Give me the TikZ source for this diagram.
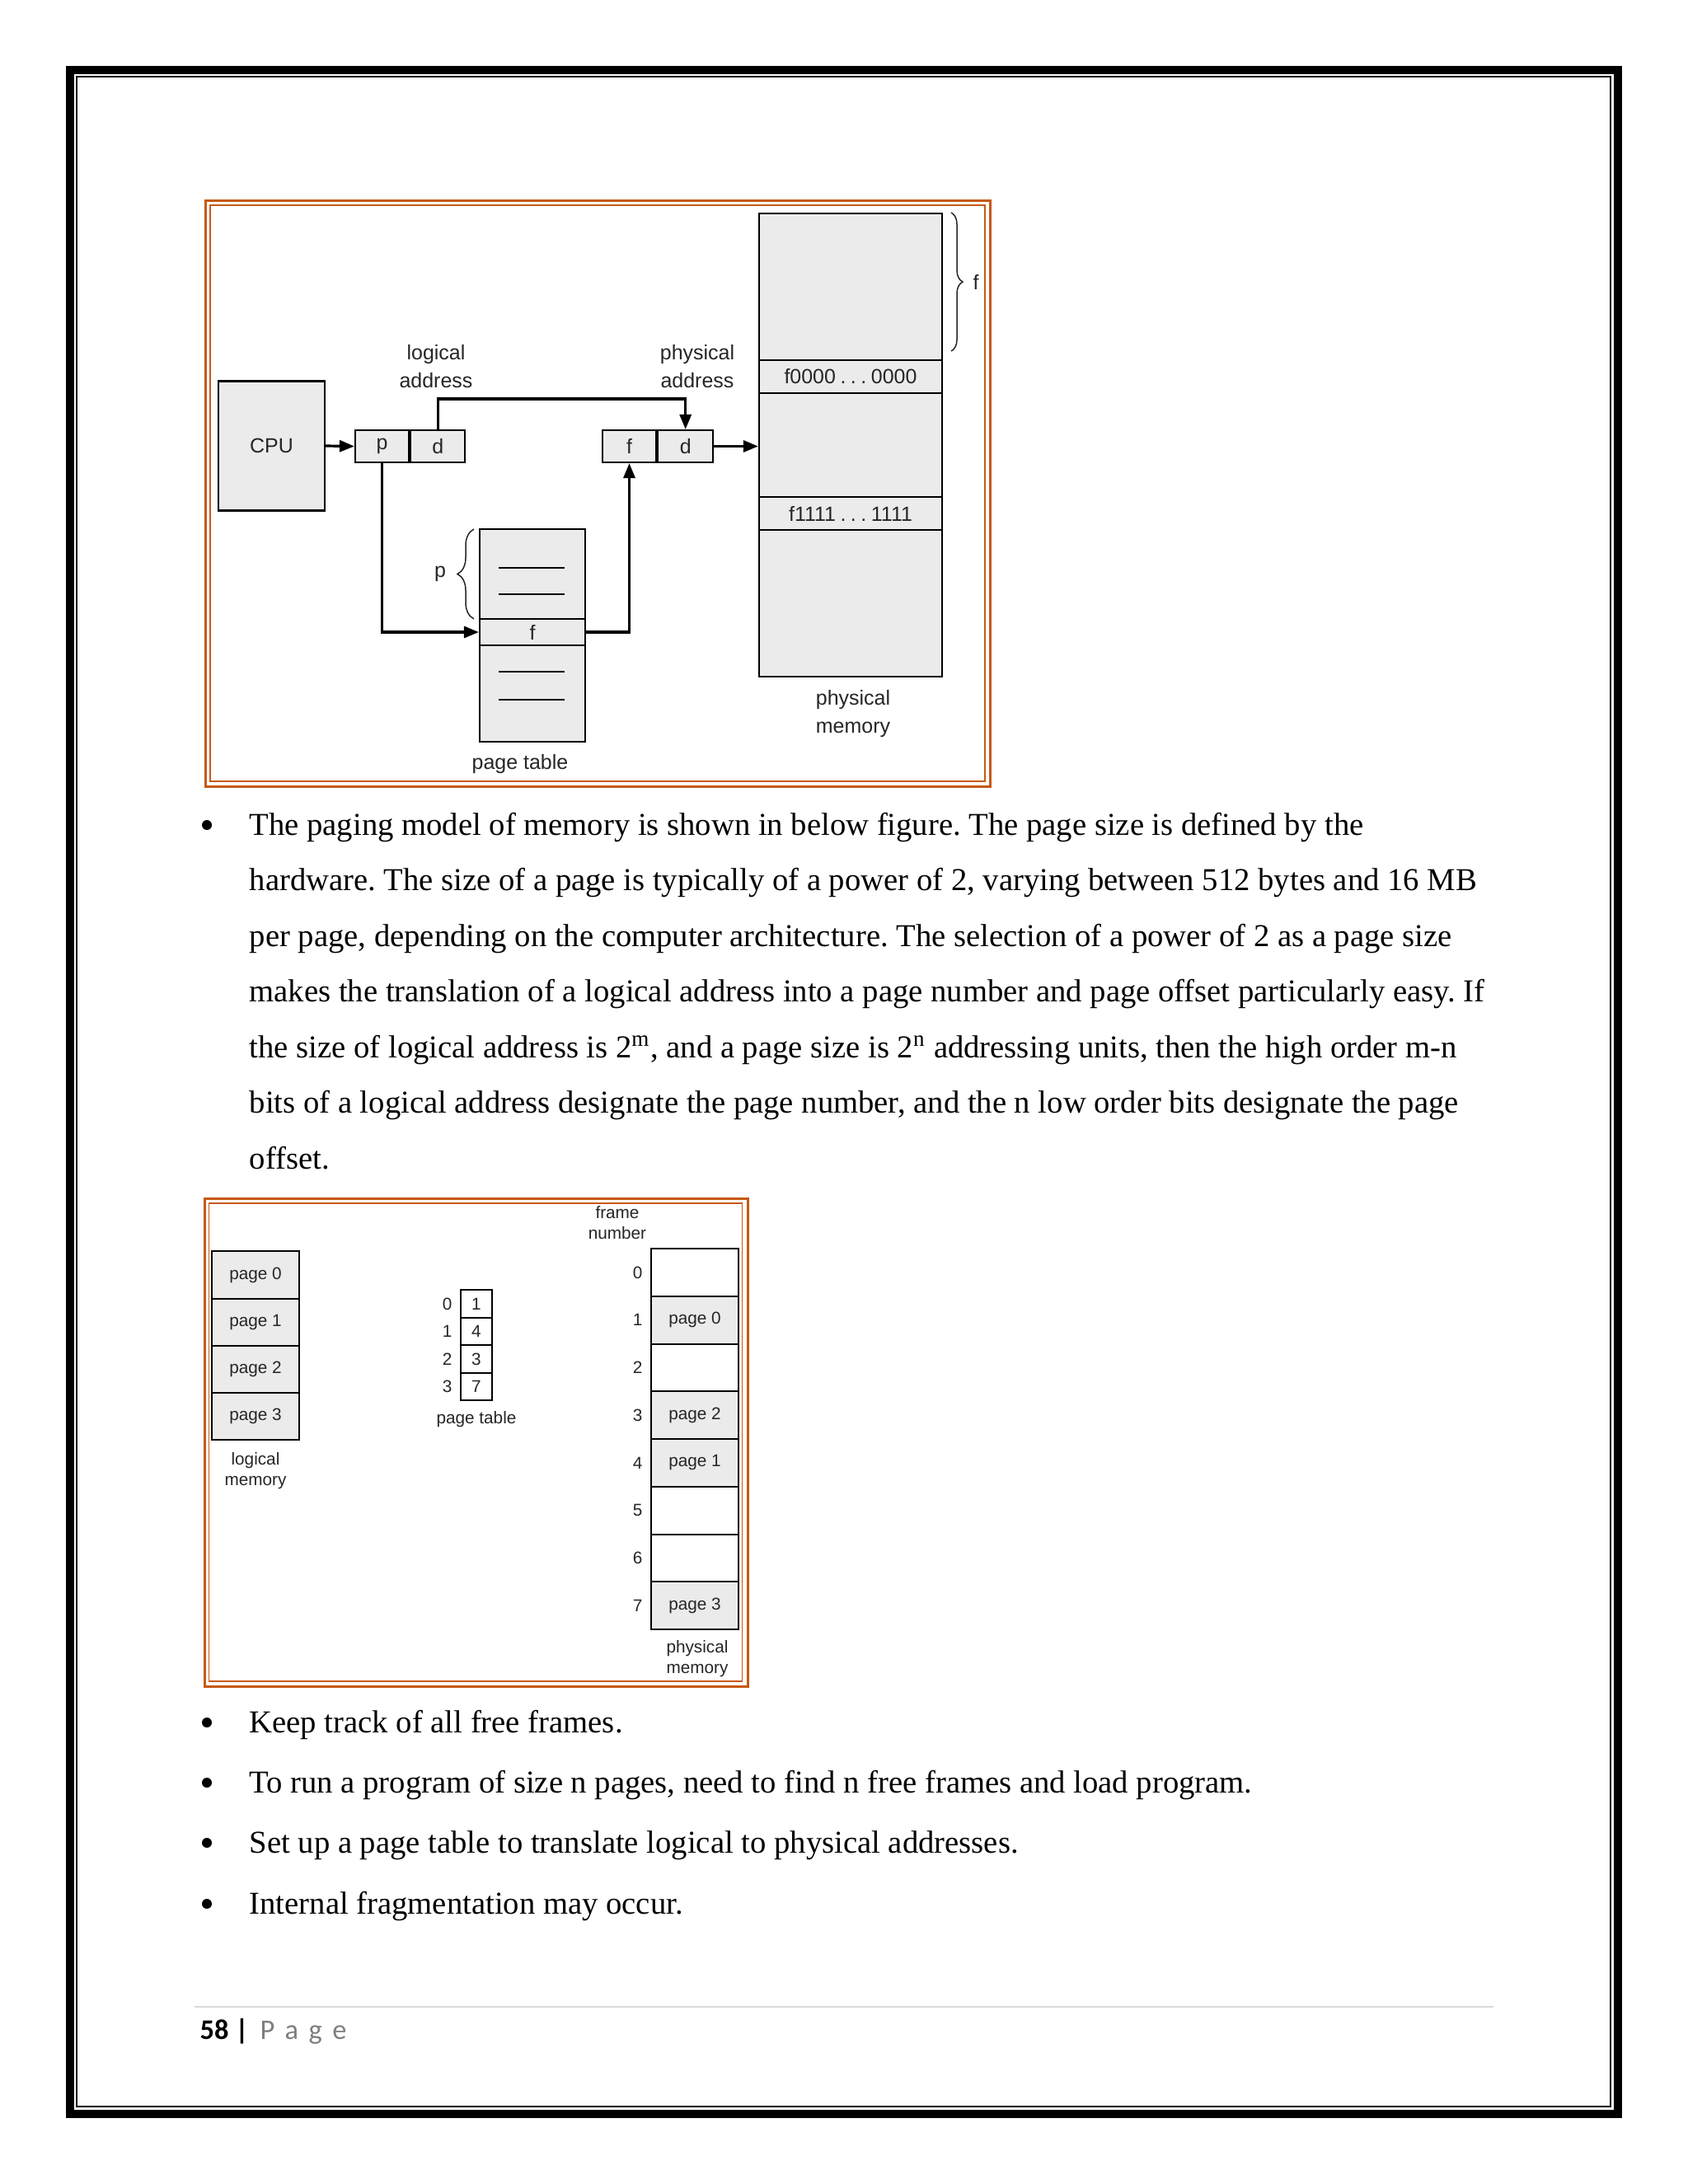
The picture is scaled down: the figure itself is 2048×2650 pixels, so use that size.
\documentclass[tikz,border=0pt]{standalone}
\usepackage{fontspec}
\setmainfont{Liberation Serif}
\newfontfamily\diagfont{Liberation Sans}
\newfontfamily\footfont{Carlito}
\usetikzlibrary{arrows.meta,positioning,decorations.pathreplacing}
\definecolor{boxgray}{HTML}{EBEBEB}
\definecolor{frameorange}{HTML}{C65911}
\definecolor{diagtext}{HTML}{262626}
\definecolor{rulegray}{HTML}{D9D9D9}
\definecolor{pagegray}{HTML}{7F7F7F}
\frenchspacing

\begin{document}
\begin{tikzpicture}[x=0.1mm,y=-0.1mm,
  gbox/.style={draw,fill=boxgray,line width=0.22mm,inner sep=0pt,text=diagtext,font={\diagfont\fontsize{7.1pt}{9.7pt}\selectfont}},
  lbl/.style={inner sep=0pt,text=diagtext,align=center,font={\diagfont\fontsize{7.1pt}{9.7pt}\selectfont}},
  pbox/.style={draw,line width=0.2mm,inner sep=0pt,text=diagtext,font={\diagfont\fontsize{5.9pt}{7.1pt}\selectfont}},
  lbltwo/.style={inner sep=0pt,text=diagtext,align=center,font={\diagfont\fontsize{5.9pt}{7.1pt}\selectfont}},
  arr/.style={-{Triangle[length=1.8mm,width=1.4mm]},line width=0.32mm},
  brc/.style={decorate,line width=0.15mm,draw=diagtext},
  body/.style={anchor=base west,inner sep=0pt,font={\fontsize{11pt}{13pt}\selectfont}},
  outerframe/.style={draw=frameorange,line width=0.3mm},
  innerframe/.style={draw=frameorange,line width=0.18mm}
]
\useasboundingbox (0,0) rectangle (2048,2650);
\fill[white] (0,0) rectangle (2048,2650);

\draw[line width=1mm] (85,85) rectangle (1963,2565);
\draw[line width=0.2mm] (93,93) rectangle (1954,2556);

% paging hardware
\draw[outerframe] (249,243) rectangle (1201,954);
\draw[innerframe] (255,249) rectangle (1195,948);

\node[gbox,minimum width=12.9mm,minimum height=15.7mm] (cpu) at (329.5,541) {CPU};
\node[gbox,minimum width=6.5mm,minimum height=3.9mm] (lp) at (463.5,541.5) {p};
\node[gbox,minimum width=6.6mm,minimum height=3.9mm,right=0pt of lp] (ld) {d};
\node[gbox,minimum width=6.5mm,minimum height=3.9mm] (pf) at (763.5,541.5) {f};
\node[gbox,minimum width=6.7mm,minimum height=3.9mm,right=0pt of pf] (pd) {d};

\node[gbox,minimum width=22.2mm,minimum height=56.2mm] (mem) at (1032,540) {};
\node[gbox,minimum width=22.2mm,minimum height=4mm] (fzero) at (1032,457) {f0000\:.\:.\:.\:0000};
\node[gbox,minimum width=22.2mm,minimum height=4mm] (fone) at (1032,623) {f1111\:.\:.\:.\:1111};

\node[gbox,minimum width=12.8mm,minimum height=25.8mm] (pt) at (646,771) {};
\node[gbox,minimum width=12.8mm,minimum height=3.2mm] (ptf) at (646,767) {f};
\foreach \y in {689,721,815,849}
  \draw[line width=0.22mm] (605,\y) -- (685,\y);

\node[lbl] (laddr) at (529,445) {logical\\address};
\node[lbl] (paddr) at (846,445) {physical\\address};
\node[lbl] (ptlbl) at (631,927) {page table};
\node[lbl] (memlbl) at (1035,866) {physical\\memory};
\node[lbl] (plbl) at (534,696) {p};
\node[lbl] (flbl) at (1184,342) {f};

\draw[brc,decoration={brace,amplitude=2mm}] (575,751) -- (575,642);
\draw[brc,decoration={brace,amplitude=1.4mm}] (1154,258) -- (1154,426);

\draw[arr] (cpu.east) -- (lp.west);
\draw[arr] (ld.north) -- ++(0,-37) -| (pd.north);
\draw[arr] (lp.south) |- (ptf.west);
\draw[arr] (ptf.east) -| (pf.south);
\draw[arr] (pd.east) -- (mem.west |- pd.east);

% body text
\foreach \y in {1001,2090,2163,2236,2310}
  \fill (251,\y) circle[radius=0.6mm];
\node[body] (la) at (302,1013) {The paging model of memory is shown in below figure. The page size is defined by the};
\node[body] (lb) at (302,1080.5) {hardware. The size of a page is typically of a power of 2, varying between 512 bytes and 16 MB};
\node[body] (lc) at (302,1148) {per page, depending on the computer architecture. The selection of a power of 2 as a page size};
\node[body] (ld) at (302,1215.5) {makes the translation of a logical address into a page number and page offset particularly easy. If};
\node[body] (le) at (302,1283) {the size of logical address is 2\textsuperscript{m}, and a page size is 2\textsuperscript{n} addressing units, then the high order m-n};
\node[body] (lf) at (302,1350.5) {bits of a logical address designate the page number, and the n low order bits designate the page};
\node[body] (lg) at (302,1418) {offset.};

% paging model
\draw[outerframe] (248,1454) rectangle (907,2046);
\draw[innerframe] (253.5,1460) rectangle (900.5,2040);

\foreach \i in {0,...,3}
  \node[pbox,fill=boxgray,minimum width=10.6mm,minimum height=5.72mm] (lm\i) at (310,{1547+57.2*\i}) {page \i};
\node[lbltwo] (lmlbl) at (310,1785) {logical\\memory};

\foreach \i/\v in {0/1,1/4,2/3,3/7} {
  \node[pbox,fill=white,minimum width=3.8mm,minimum height=3.35mm] (pe\i) at (578,{1582+33.5*\i}) {\v};
  \node[lbltwo,left=0.9mm of pe\i] (pi\i) {\i};
}
\node[lbltwo] (pelbl) at (578,1722) {page table};

\node[lbltwo] (fnlbl) at (749,1484) {frame\\number};
\foreach \i/\t/\c in {0//white,1/page 0/boxgray,2//white,3/page 2/boxgray,4/page 1/boxgray,5//white,6//white,7/page 3/boxgray} {
  \node[pbox,fill=\c,minimum width=10.6mm,minimum height=5.775mm] (fr\i) at (843,{1543.9+57.75*\i}) {\t};
  \node[lbltwo,left=0.9mm of fr\i] (fn\i) {\i};
}
\node[lbltwo] (pmlbl) at (846,2013) {physical\\memory};

% list
\node[body] (ba) at (302,2102) {Keep track of all free frames.};
\node[body] (bb) at (302,2175) {To run a program of size n pages, need to find n free frames and load program.};
\node[body] (bc) at (302,2248) {Set up a page table to translate logical to physical addresses.};
\node[body] (bd) at (302,2322) {Internal fragmentation may occur.};

% footer
\draw[rulegray,line width=0.15mm] (236,2435) -- (1812,2435);
\node[anchor=base west,inner sep=0pt,font={\footfont\fontsize{9.8pt}{12pt}\selectfont}] (pnum) at (242,2474) {\textbf{58 |}\hspace{0.4em}\textcolor{pagegray}{\spaceskip=0.36em P a g e}};
\end{tikzpicture}
\end{document}
